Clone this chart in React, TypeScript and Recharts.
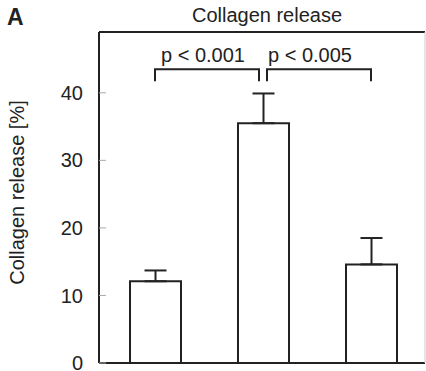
import React from 'react';
import { BarChart, Bar, XAxis, YAxis, ErrorBar, ReferenceLine } from 'recharts';

// group names (not drawn), mean release and upper SD
const groups = ['Group 1', 'Group 2', 'Group 3'];
const release = [12.1, 35.5, 14.6];
const releaseSd = [1.6, 4.4, 3.9];

const yTicks = [0, 10, 20, 30, 40];

// significance brackets between groups
const comparisons = [
  { from: 'Group 1', to: 'Group 2', label: 'p < 0.001' },
  { from: 'Group 2', to: 'Group 3', label: 'p < 0.005' },
];
const bracketLevel = 43.5;

const FONT = '"Liberation Sans", Arial, Helvetica, sans-serif';
const INK = '#222';

const data = groups.map((g, i) => ({
  name: g,
  value: release[i],
  sd: [0, releaseSd[i]],
}));

// bracket drawn from the reference segment endpoints; the end touching the
// shared middle bar is pulled in a little so the two brackets don't meet
const bracket = (label: string, index: number) => (props: any) => {
  const { x1, y1, x2 } = props;
  const left = index === 0 ? x1 : x1 + 4;
  const right = index === 0 ? x2 - 4 : x2;
  const leg = 12;
  const textShift = index === 0 ? -4 : -9;
  return (
    <g>
      <path
        d={`M${left},${y1 + leg}V${y1}H${right}V${y1 + leg}`}
        fill="none"
        stroke={INK}
        strokeWidth={2}
      />
      <text
        x={(left + right) / 2 + textShift}
        y={y1 - 7}
        textAnchor="middle"
        fontFamily={FONT}
        fontSize={20}
        fill={INK}
      >
        {label}
      </text>
    </g>
  );
};

export default function App() {
  return (
    <div style={{ position: 'absolute', left: 0, top: 0, width: 426, height: 371, background: '#fff' }}>
      <div
        style={{
          position: 'absolute', left: 7, top: 6, fontFamily: FONT, fontWeight: 'bold',
          fontSize: 23, lineHeight: '23px', color: INK,
        }}
      >
        A
      </div>
      <div
        style={{
          position: 'absolute', left: 109, width: 316, top: 5, textAlign: 'center',
          fontFamily: FONT, fontSize: 20, lineHeight: '20px', color: INK,
        }}
      >
        Collagen release
      </div>
      <BarChart
        width={426}
        height={371}
        data={data}
        margin={{ top: 31, right: 0, bottom: 7, left: 0 }}
      >
        <XAxis
          dataKey="name"
          height={1}
          tick={false}
          tickLine={false}
          padding={{ left: 2, right: 0 }}
          axisLine={{ stroke: INK, strokeWidth: 2 }}
        />
        <XAxis
          xAxisId="top"
          orientation="top"
          dataKey="name"
          height={1}
          tick={false}
          tickLine={false}
          axisLine={{ stroke: INK, strokeWidth: 2 }}
        />
        <YAxis
          width={99}
          domain={[0, 49]}
          ticks={yTicks}
          interval={0}
          tickSize={-7}
          tickMargin={23}
          tickLine={{ stroke: '#aaa', strokeWidth: 1 }}
          axisLine={{ stroke: INK, strokeWidth: 2 }}
          tick={{ fill: INK, fontSize: 20, fontFamily: FONT }}
          label={{
            value: 'Collagen release [%]',
            angle: -90,
            position: 'insideLeft',
            offset: 17,
            dy: -5,
            style: { textAnchor: 'middle', fill: INK, fontSize: 20, fontFamily: FONT },
          }}
        />
        <YAxis
          yAxisId="right"
          orientation="right"
          width={1}
          domain={[0, 49]}
          tick={false}
          tickLine={false}
          axisLine={{ stroke: '#ccc', strokeWidth: 1 }}
        />
        <Bar
          dataKey="value"
          barSize={51}
          fill="#fff"
          stroke={INK}
          strokeWidth={2}
          isAnimationActive={false}
        >
          <ErrorBar dataKey="sd" width={11} stroke={INK} strokeWidth={2} direction="y" />
        </Bar>
        {comparisons.map((c, i) => (
          <ReferenceLine
            key={c.label}
            segment={[
              { x: c.from, y: bracketLevel },
              { x: c.to, y: bracketLevel },
            ]}
            shape={bracket(c.label, i)}
          />
        ))}
      </BarChart>
    </div>
  );
}
